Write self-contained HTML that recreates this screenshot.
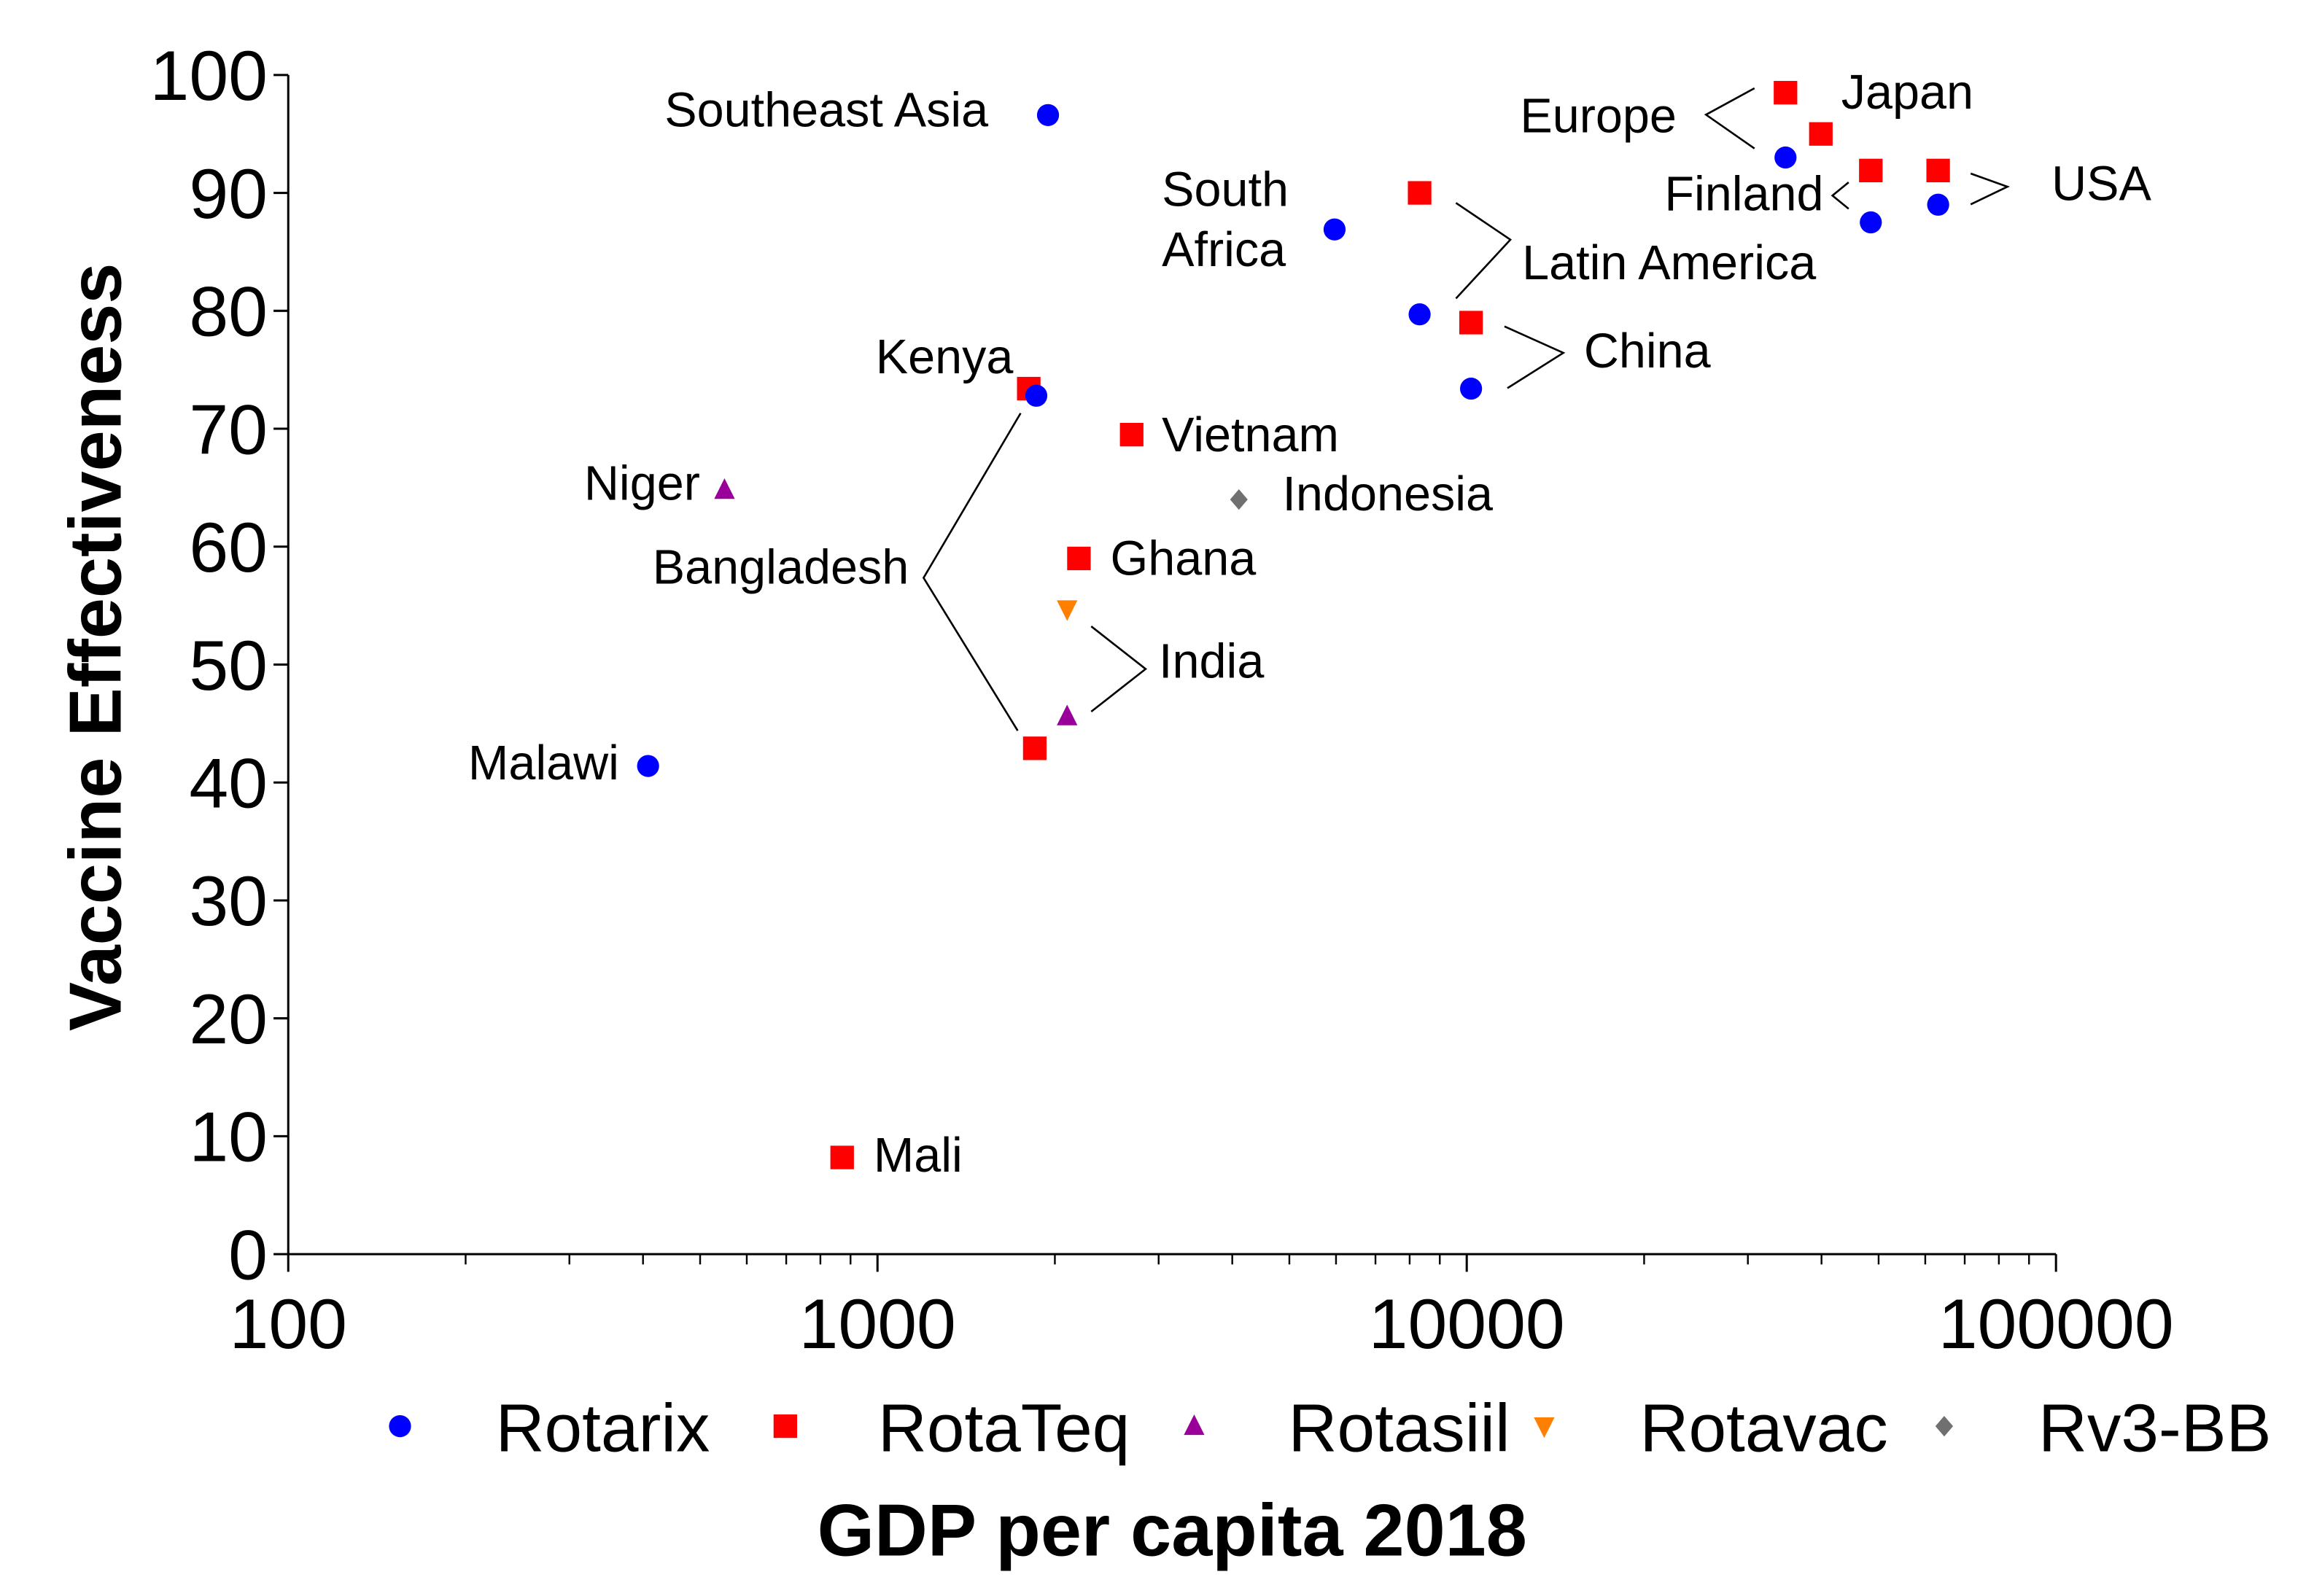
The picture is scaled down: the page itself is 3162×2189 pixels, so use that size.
<!DOCTYPE html>
<html><head><meta charset="utf-8"><style>
html,body{margin:0;padding:0;background:#fff;}
svg{display:block;font-family:"Liberation Sans",Arial,sans-serif;}
</style></head><body>
<svg id="chart" width="3162" height="2189" viewBox="0 0 1568 1085.5" preserveAspectRatio="none" xmlns="http://www.w3.org/2000/svg">
<g id="axes"></g>
<g id="marks"></g>
<g id="notes"></g>
<g id="legend"></g>
<text transform="translate(82,440) rotate(-90)" text-anchor="middle" font-size="50" font-weight="bold">Vaccine Effectiveness</text>
<text x="797" y="1058" text-anchor="middle" font-size="50" font-weight="bold">GDP per capita 2018</text>
</svg>
<script>
const pointGdp = [1947, 5966, 8318, 8318, 10170, 10170, 34750, 34750, 39900, 48500, 48500, 63100, 63100, 1806, 1860, 2700, 550, 4105, 2197, 2098, 2098, 1849, 408, 871];
const pointVe = [96.6, 86.9, 90, 79.7, 79, 73.4, 98.5, 93, 95, 91.9, 87.5, 91.9, 89, 73.4, 72.8, 69.5, 64.8, 64, 59, 54.7, 45.6, 42.9, 41.4, 8.2];
const pointVaccine = ["Rotarix","Rotarix","RotaTeq","Rotarix","RotaTeq","Rotarix","RotaTeq","Rotarix","RotaTeq","RotaTeq","Rotarix","RotaTeq","Rotarix","RotaTeq","Rotarix","RotaTeq","Rotasiil","Rv3-BB","RotaTeq","Rotavac","Rotasiil","RotaTeq","Rotarix","RotaTeq"];
const yTicks = [0,10,20,30,40,50,60,70,80,90,100];
const xTicks = [100,1000,10000,100000];
const xTickLabels = ["100","1000","10000","100000"];
const legendNames = ["Rotarix","RotaTeq","Rotasiil","Rotavac","Rv3-BB"];

const X0=196, X1=1398, Y0=853, Y1=51;
const xs = v => X0 + (Math.log10(v)-2)/3*(X1-X0);
const ys = v => Y0 - v/100*(Y0-Y1);
const NS="http://www.w3.org/2000/svg";
function mk(tag, attrs, parent){const e=document.createElementNS(NS,tag);for(const k in attrs)e.setAttribute(k,attrs[k]);parent.appendChild(e);return e;}
const colors={"Rotarix":"#0000ff","RotaTeq":"#ff0000","Rotasiil":"#990099","Rotavac":"#ff8000","Rv3-BB":"#707070"};
function marker(type,x,y,parent){
  const c=colors[type];
  if(type==="Rotarix") return mk("ellipse",{cx:x,cy:y,rx:7.5,ry:7.5,fill:c},parent);
  if(type==="RotaTeq") return mk("rect",{x:x-8,y:y-8,width:16,height:16,fill:c},parent);
  if(type==="Rotasiil") return mk("polygon",{points:`${x},${y-8} ${x+7},${y+6} ${x-7},${y+6}`,fill:c},parent);
  if(type==="Rotavac") return mk("polygon",{points:`${x-7},${y-6} ${x+7},${y-6} ${x},${y+8}`,fill:c},parent);
  return mk("polygon",{points:`${x},${y-7} ${x+6},${y} ${x},${y+7} ${x-6},${y}`,fill:c},parent);
}
const axes=document.getElementById("axes");
let l=mk("line",{x1:X0,y1:Y1,x2:X0,y2:Y0,stroke:"#000","stroke-width":1.5},axes);

l=mk("line",{x1:X0,y1:Y0,x2:X1,y2:Y0,stroke:"#000","stroke-width":1.5},axes);

yTicks.forEach(t=>{
  const y=ys(t);
  const tk=mk("line",{x1:X0-10,y1:y,x2:X0,y2:y,stroke:"#000","stroke-width":1.5},axes);
  
  const tx=mk("text",{x:X0-14,y:y+17,"text-anchor":"end","font-size":48},axes);
  
  tx.textContent=t;
});
xTicks.forEach((t,i)=>{
  const x=xs(t);
  const tk=mk("line",{x1:x,y1:Y0,x2:x,y2:Y0+12,stroke:"#000","stroke-width":1.5},axes);
  
  const tx=mk("text",{x:x,y:917,"text-anchor":"middle","font-size":48},axes);
  
  tx.textContent=xTickLabels[i];
  if(i<xTicks.length-1){for(let m=2;m<=9;m++){const mx=xs(t*m);
    const mt=mk("line",{x1:mx,y1:Y0,x2:mx,y2:Y0+7,stroke:"#000","stroke-width":1.2},axes);
    }}
});
const marks=document.getElementById("marks");
pointGdp.forEach((g,i)=>{
  const m=marker(pointVaccine[i],xs(g),ys(pointVe[i]),marks);
  
  
});
const notes=document.getElementById("notes");
const labels=[["Southeast Asia",672,86,"end"],["South",790,140,"start"],["Africa",790,181,"start"],["Latin America",1035,190,"start"],["China",1077,250,"start"],["Europe",1140,90,"end"],["Japan",1252,74,"start"],["Finland",1240,143,"end"],["USA",1395,136,"start"],["Kenya",689,254,"end"],["Vietnam",790,307,"start"],["Niger",476,340,"end"],["Indonesia",872,347,"start"],["Bangladesh",618,397,"end"],["Ghana",755,391,"start"],["India",788,461,"start"],["Malawi",421,530,"end"],["Mali",594,797,"start"]];
labels.forEach(a=>{const t=mk("text",{x:a[1],y:a[2],"text-anchor":a[3],"font-size":33},notes);
  
  
  t.textContent=a[0];});
const brackets=["1193,60 1160,78 1193,101","1257,124 1246,133 1257,142","1340,118 1365,127 1340,139","990,138 1027,163 990,203","1023,222 1063,240 1025,264","742,426 779,455 742,484","694,281 628,393 692,497"];
brackets.forEach(p=>{const b=mk("polyline",{points:p,fill:"none",stroke:"#000","stroke-width":1.3},notes);
  
  });
const legend=document.getElementById("legend");
const lgMarkX=[272,534,812,1050,1322], lgTextX=[337,597,876,1115,1386];
legendNames.forEach((n,i)=>{
  const m=marker(n,lgMarkX[i],970,legend);
  
  const t=mk("text",{x:lgTextX[i],y:987,"font-size":46},legend);
  
  
  t.textContent=n;
});
</script>
</body></html>
